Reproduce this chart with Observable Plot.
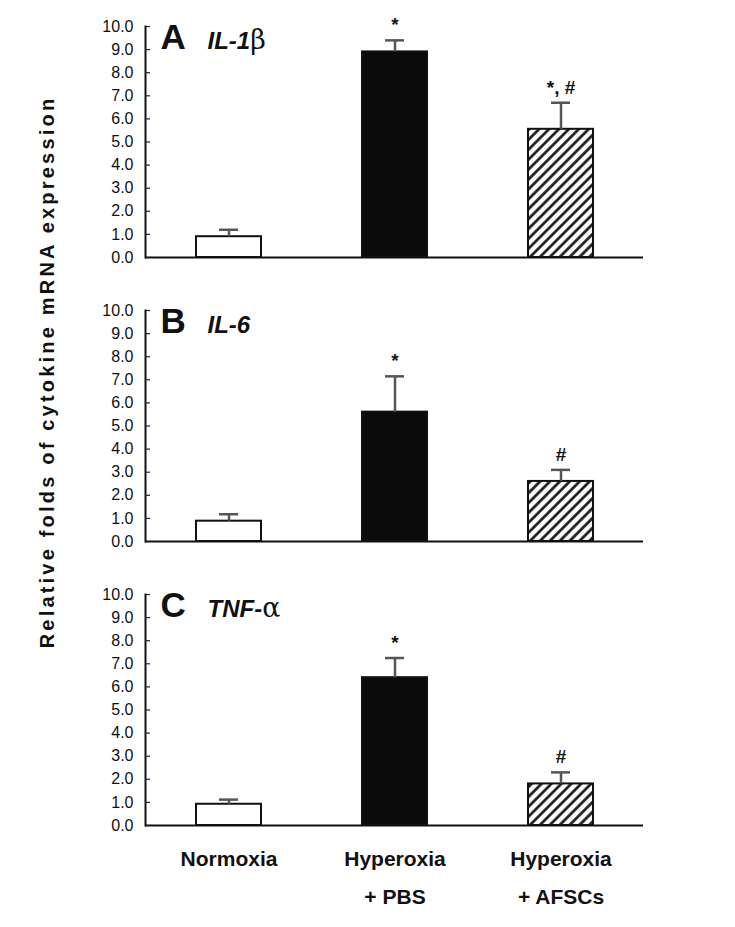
<!DOCTYPE html>
<html><head><meta charset="utf-8">
<script src="https://cdn.jsdelivr.net/npm/d3@7"></script>
<script src="https://cdn.jsdelivr.net/npm/@observablehq/plot@0.6"></script>
<style>
body{margin:0;background:#fff;}
#wrap{position:relative;width:735px;height:927px;background:#fff;}
#wrap svg{position:absolute;left:0;top:0;}
#ylab{position:absolute;z-index:2;left:47px;top:372px;transform:translate(-50%,-50%) rotate(-90deg);font:bold 20px "Liberation Sans",Arial,sans-serif;letter-spacing:3.2px;white-space:nowrap;color:#111;}
</style>
</head><body>
<div id="wrap"><div id="ylab">Relative folds of cytokine mRNA expression</div></div>
<script>
const groups = ["Normoxia", "Hyperoxia + PBS", "Hyperoxia + AFSCs"];
const groupLabels = ["Normoxia", "Hyperoxia\n+ PBS", "Hyperoxia\n+ AFSCs"];
const panels = ["A", "B", "C"];
const genes = ["IL-1", "IL-6", "TNF-"];
const greek = ["β", "", "α"];
const il1bMean = [0.9, 8.9, 5.55];
const il1bErr = [0.3, 0.5, 1.15];
const il1bSig = ["", "*", "*, #"];
const il6Mean = [0.88, 5.6, 2.6];
const il6Err = [0.3, 1.55, 0.5];
const il6Sig = ["", "*", "#"];
const tnfMean = [0.92, 6.4, 1.8];
const tnfErr = [0.2, 0.85, 0.5];
const tnfSig = ["", "*", "#"];
const yTicks = [0, 1, 2, 3, 4, 5, 6, 7, 8, 9, 10];
const fills = ["white", "#0b0b0b", "url(#hatch)"];

const means = [il1bMean, il6Mean, tnfMean];
const errs = [il1bErr, il6Err, tnfErr];
const sigs = [il1bSig, il6Sig, tnfSig];
const rows = [];
panels.forEach((p, i) => groups.forEach((g, j) => rows.push({
  panel: p, group: g, value: means[i][j], upper: means[i][j] + errs[i][j],
  sig: sigs[i][j], fill: fills[j]
})));
const panelRows = panels.map((p, i) => ({panel: p, gene: genes[i], greek: greek[i]}));
const font = '"Liberation Sans", Arial, sans-serif';

const chart = Plot.plot({
  width: 735,
  height: 927,
  marginLeft: 145,
  marginRight: 92,
  marginTop: 26,
  marginBottom: 102,
  style: {fontFamily: font, background: "white", color: "#111"},
  x: {domain: groups, paddingInner: 0.61, paddingOuter: 0.305, label: null},
  y: {domain: [0, 10], label: null},
  fy: {domain: panels, paddingInner: 0.187, paddingOuter: 0, axis: null, label: null},
  marks: [
    Plot.ruleY([0], {stroke: "#111", strokeWidth: 2}),
    Plot.frame({anchor: "left", stroke: "#111", strokeWidth: 2}),
    Plot.axisY({ticks: yTicks, tickSize: -5, tickPadding: 17, tickFormat: d3.format(".1f"),
      fontSize: 16, stroke: "#222", strokeWidth: 1.2, label: null, style: "letter-spacing:1.3px"}),
    Plot.axisX({tickSize: 0, tickPadding: 13, fontSize: 21, fontWeight: "bold", lineHeight: 1.82,
      tickFormat: (d, i) => groupLabels[groups.indexOf(d)], label: null, style: "letter-spacing:2.6px"}),
    Plot.barY(rows, {x: "group", y: "value", fy: "panel", fill: "fill", stroke: "#111", strokeWidth: 2}),
    Plot.ruleX(rows, {x: "group", y1: "value", y2: "upper", fy: "panel", stroke: "#555", strokeWidth: 2.5}),
    Plot.tickY(rows, {x: "group", y: "upper", fy: "panel", stroke: "#555", strokeWidth: 2.5, inset: 23}),
    Plot.text(rows, {x: "group", y: "upper", fy: "panel", text: "sig", dy: -15, fontSize: 19, fontWeight: "bold", fill: "#111", style: "letter-spacing:1.5px"}),
    Plot.text(panelRows, {fy: "panel", text: "panel", frameAnchor: "top-left", textAnchor: "start", lineAnchor: "top", dx: 15, dy: -2,
      fontSize: 35, fontWeight: "bold", fill: "#111"}),
    Plot.text(panelRows, {fy: "panel", text: d => d.gene + d.greek, frameAnchor: "top-left", textAnchor: "start", lineAnchor: "top", dx: 62, dy: 5,
      fontSize: 24, fontWeight: "bold", fontStyle: "italic", fill: "#111", className: "gene", style: "letter-spacing:2.2px"})
  ]
});

// hatch pattern
const ns = "http://www.w3.org/2000/svg";
const defs = document.createElementNS(ns, "defs");
defs.innerHTML = '<pattern id="hatch" patternUnits="userSpaceOnUse" width="7" height="7" patternTransform="rotate(45)">' +
  '<rect width="7" height="7" fill="white"/><line x1="3.5" y1="0" x2="3.5" y2="7" stroke="#111" stroke-width="2.6"/></pattern>';
chart.insertBefore(defs, chart.firstChild);

// mixed styling for gene names: italic bold name + upright Greek letter
chart.querySelectorAll(".gene text").forEach((t) => {
  const txt = t.textContent;
  const p = panelRows.find(r => r.gene + r.greek === txt);
  if (!p) return;
  t.textContent = "";
  const a = document.createElementNS(ns, "tspan");
  a.textContent = p.gene;
  t.appendChild(a);
  if (p.greek) {
    const b = document.createElementNS(ns, "tspan");
    b.textContent = p.greek;
    b.setAttribute("font-style", "normal");
    b.setAttribute("font-weight", "normal");
    b.setAttribute("font-family", "DejaVu Serif, serif");
    b.setAttribute("font-size", "27");
    t.appendChild(b);
  }
});
document.getElementById("wrap").appendChild(chart);
</script>
</body></html>
